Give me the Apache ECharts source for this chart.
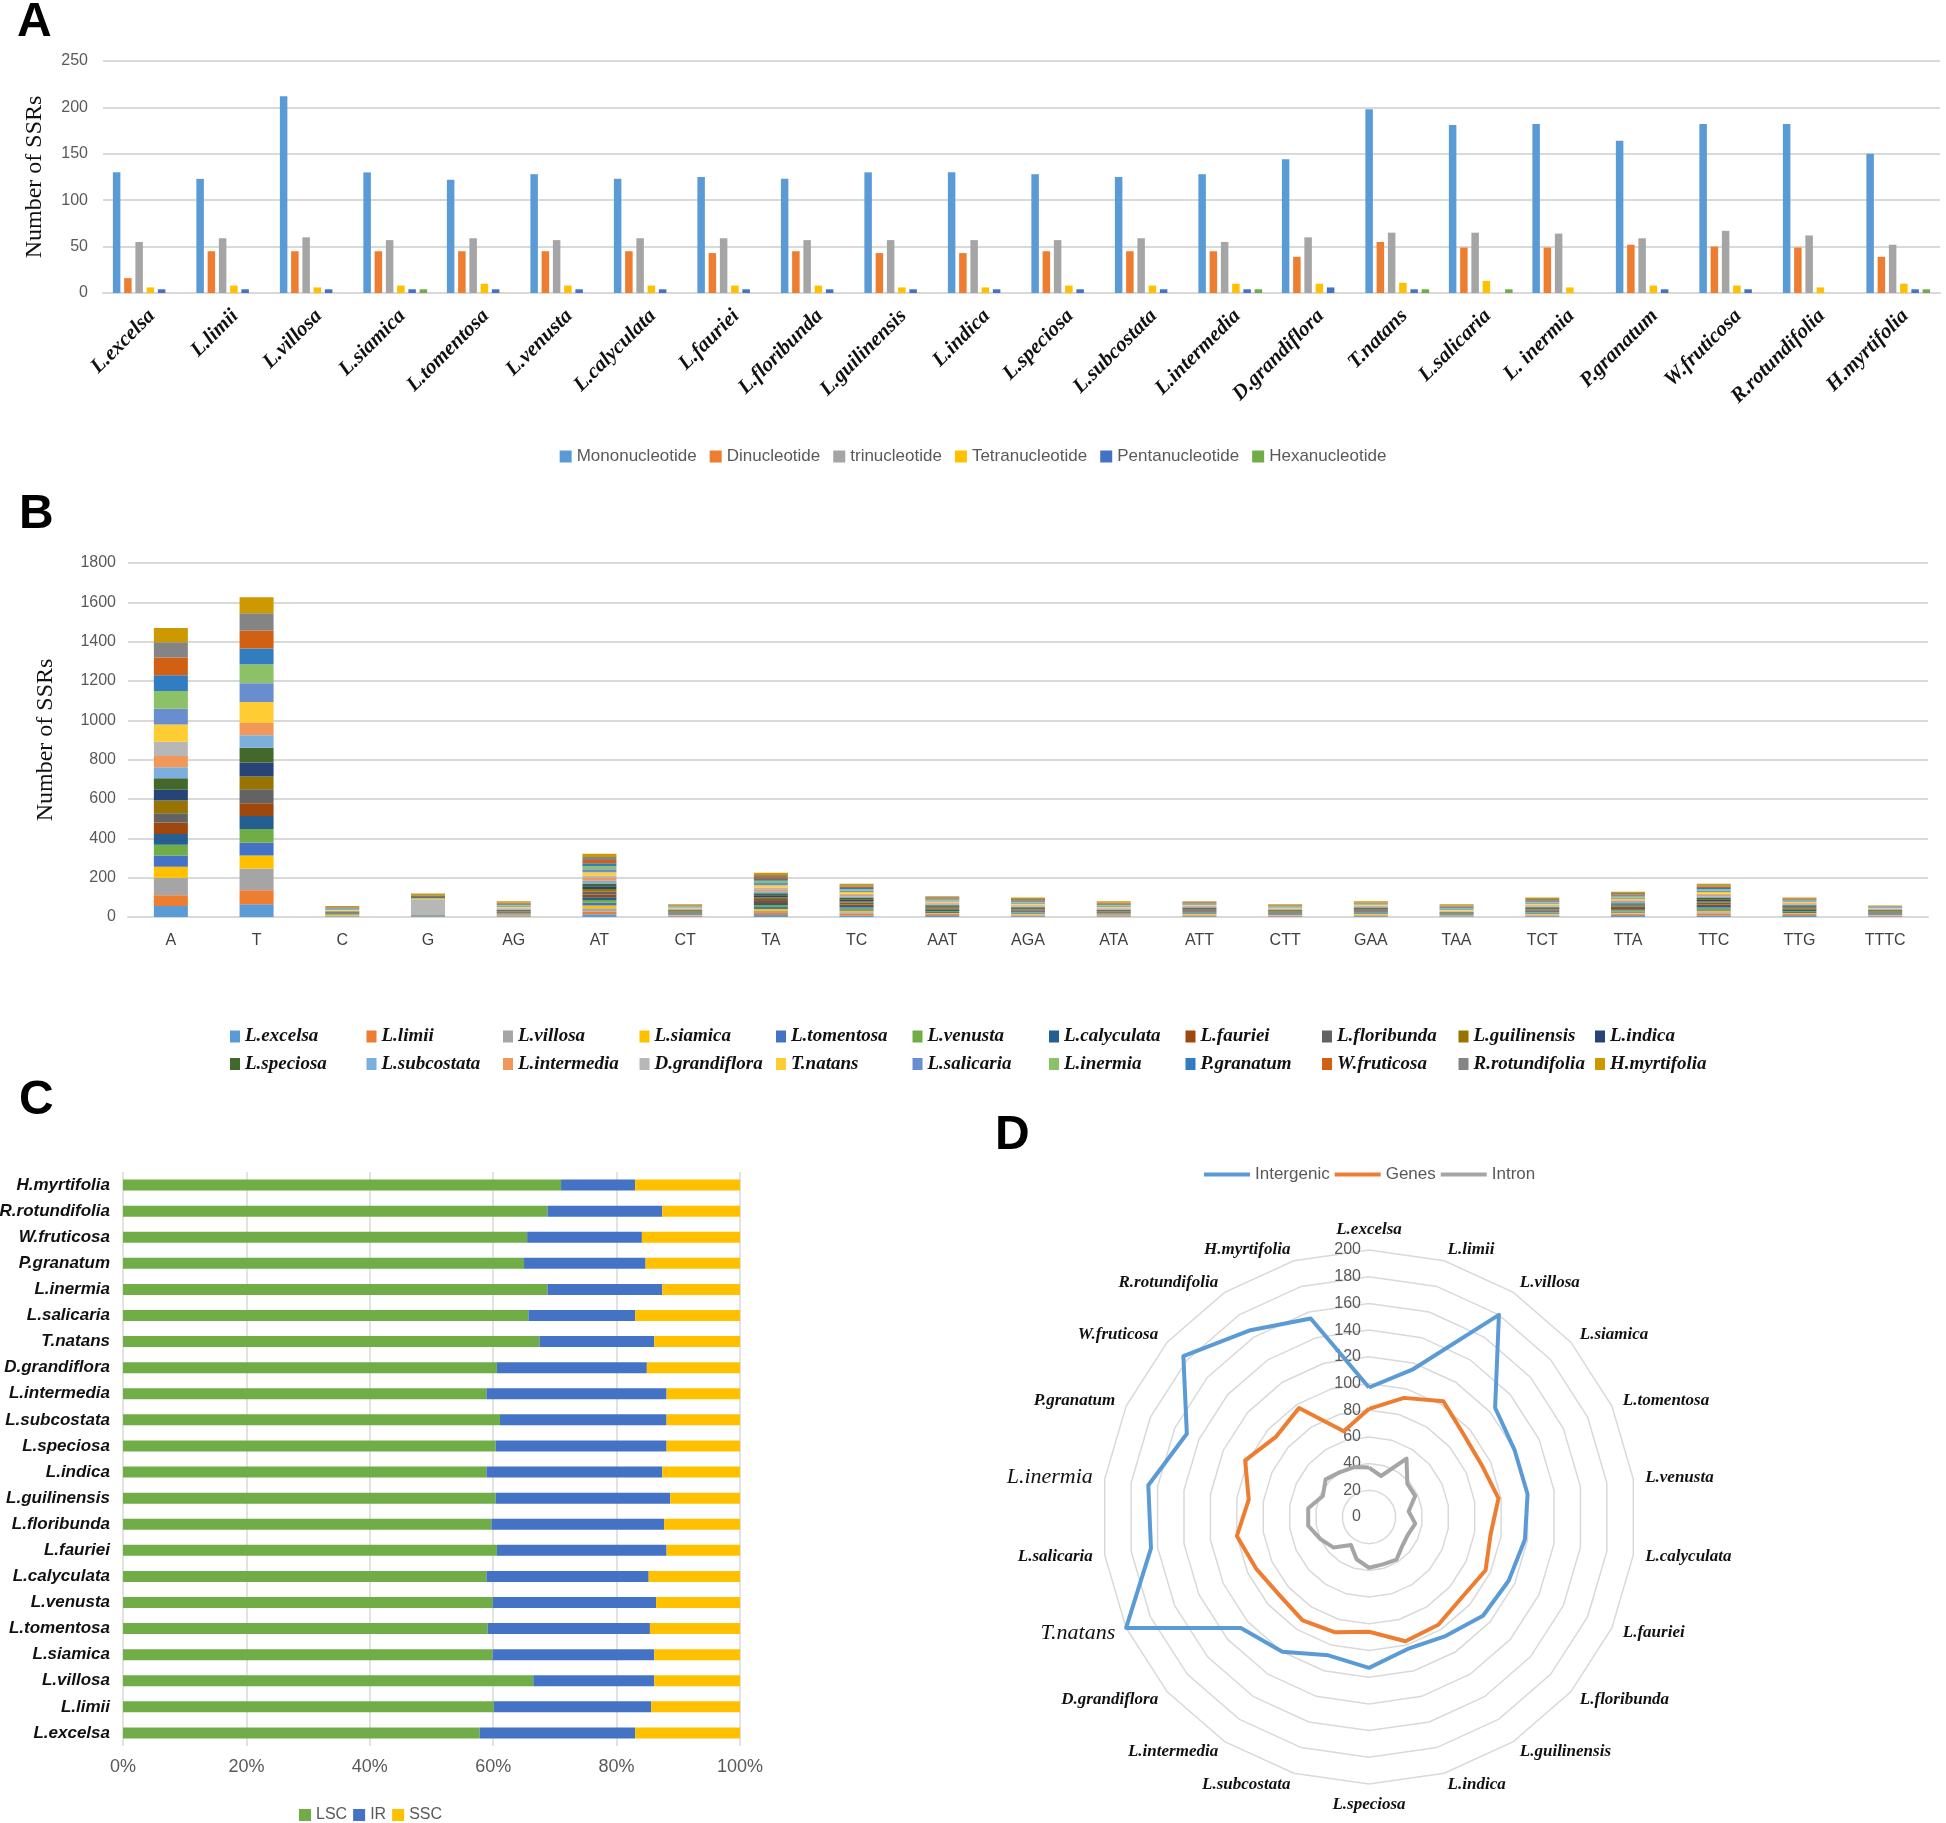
<!DOCTYPE html>
<html><head><meta charset="utf-8">
<script src="https://cdn.jsdelivr.net/npm/echarts@6/dist/echarts.min.js"></script>
<style>html,body{margin:0;padding:0;background:#fff}#c{width:1946px;height:1823px}</style>
</head><body><div id="c"></div>
<script>
// ---------- Panel A ----------
const speciesA = ['L.excelsa','L.limii','L.villosa','L.siamica','L.tomentosa','L.venusta','L.calyculata','L.fauriei','L.floribunda','L.guilinensis','L.indica','L.speciosa','L.subcostata','L.intermedia','D.grandiflora','T.natans','L.salicaria','L. inermia','P.granatum','W.fruticosa','R.rotundifolia','H.myrtifolia'];
const repeatTypes = ['Mononucleotide','Dinucleotide','trinucleotide','Tetranucleotide','Pentanucleotide','Hexanucleotide'];
const mono  = [130,123,212,130,122,128,123,125,123,130,130,128,125,128,144,198,181,182,164,182,182,150];
const di    = [16,45,45,45,45,45,45,43,45,43,43,45,45,45,39,55,49,49,52,50,49,39];
const tri   = [55,59,60,57,59,57,59,59,57,57,57,57,59,55,60,65,65,64,59,67,62,52];
const tetra = [6,8,6,8,10,8,8,8,8,6,6,8,8,10,10,11,13,6,8,8,6,10];
const penta = [4,4,4,4,4,4,4,4,4,4,4,4,4,4,6,4,0,0,4,4,0,4];
const hexa  = [0,0,0,4,0,0,0,0,0,0,0,0,0,4,0,4,4,0,0,0,0,4];
const aTicks = [0,50,100,150,200,250];

// ---------- Panel B ----------
const species = ['L.excelsa','L.limii','L.villosa','L.siamica','L.tomentosa','L.venusta','L.calyculata','L.fauriei','L.floribunda','L.guilinensis','L.indica','L.speciosa','L.subcostata','L.intermedia','D.grandiflora','T.natans','L.salicaria','L.inermia','P.granatum','W.fruticosa','R.rotundifolia','H.myrtifolia'];
const motifs = ['A','T','C','G','AG','AT','CT','TA','TC','AAT','AGA','ATA','ATT','CTT','GAA','TAA','TCT','TTA','TTC','TTG','TTTC'];
// values per motif, in species order
const mA    = [56,55,88,56,58,55,54,58,48,65,54,58,56,58,72,88,80,90,80,90,78,72];
const mT    = [65,71,111,66,65,70,66,65,71,65,71,75,63,63,0,106,95,97,80,90,89,82];
const mC    = [2,2,4,2,2,3,2,2,2,2,2,3,2,2,0,4,3,3,2,4,3,5];
const mG    = [1,1,1,0,1,1,0,1,1,1,1,0,1,0,76,4,3,4,5,5,4,8];
const mAG   = [3,3,4,3,3,3,3,3,3,3,3,3,3,3,4,5,5,4,4,5,4,6];
const mAT   = [14,14,16,14,14,14,14,14,14,14,14,14,14,14,12,17,16,16,14,17,15,17];
const mCT   = [3,3,3,3,3,3,3,3,3,3,3,3,3,3,2,3,3,3,2,3,3,4];
const mTA   = [10,10,11,10,10,10,10,10,10,10,10,10,10,10,9,12,11,11,9,11,10,11];
const mTC   = [8,8,8,8,8,8,8,8,8,8,8,8,8,8,6,9,7,7,6,7,7,8];
const mAAT  = [5,5,5,5,5,5,5,5,5,5,5,5,5,5,4,5,5,5,4,5,4,4];
const mAGA  = [4,4,5,4,4,4,4,4,4,4,4,4,4,4,5,5,5,5,5,5,5,7];
const mATA  = [3,3,4,3,3,3,3,3,3,3,3,3,3,3,4,5,5,4,4,5,4,6];
const mATT  = [4,4,4,4,4,4,4,4,4,4,4,4,4,4,2,4,4,3,3,4,2,2];
const mCTT  = [3,3,3,3,3,3,3,3,3,3,3,3,3,3,2,3,3,3,2,3,3,4];
const mGAA  = [4,4,4,4,4,4,4,4,4,4,4,4,4,4,2,3,3,3,2,3,3,5];
const mTAA  = [2,2,3,2,2,2,2,2,2,2,2,2,2,2,3,4,4,4,5,5,5,6];
const mTCT  = [4,4,5,4,4,4,4,4,4,4,4,4,4,4,5,5,5,5,5,5,5,7];
const mTTA  = [5,5,6,6,6,6,6,6,6,6,6,6,6,6,5,6,6,6,5,6,6,7];
const mTTC  = [8,8,8,8,8,8,8,8,8,8,8,8,8,8,6,9,7,7,6,7,7,8];
const mTTG  = [5,5,5,5,5,5,5,5,5,5,5,5,5,5,3,4,4,4,3,4,3,4];
const mTTTC = [3,3,3,3,3,3,3,3,3,3,3,3,3,3,2,2,2,2,2,2,2,2];
const motifValues = [mA,mT,mC,mG,mAG,mAT,mCT,mTA,mTC,mAAT,mAGA,mATA,mATT,mCTT,mGAA,mTAA,mTCT,mTTA,mTTC,mTTG,mTTTC];
const bTicks = [0,200,400,600,800,1000,1200,1400,1600,1800];

// ---------- Panel C (percent of genome, species order bottom->top) ----------
const regions = ['LSC','IR','SSC'];
const lscPct = [57.8,60.1,66.5,59.9,59.1,59.9,58.9,60.6,59.7,60.4,58.9,60.4,61.1,58.9,60.6,67.5,65.7,68.8,65.0,65.5,68.8,71.0];
const irPct  = [25.2,25.5,19.6,26.2,26.3,26.5,26.3,27.5,28.0,28.3,28.5,27.7,27.0,29.2,24.3,18.6,17.3,18.6,19.7,18.6,18.6,12.0];
const sscPct = [17.0,14.4,13.9,13.9,14.6,13.6,14.8,11.9,12.3,11.3,12.6,11.9,11.9,11.9,15.1,13.9,17.0,12.6,15.3,15.9,12.6,17.0];

// ---------- Panel D (radar) ----------
const locations = ['Intergenic','Genes','Intron'];
const intergenic = [97,115,180,125,120,120,118,115,113,106,103,113,108,120,127,200,165,167,150,184,166,155];
const genes      = [81,93,103,94,93,98,92,96,92,96,97,86,90,92,89,93,100,91,102,92,97,67];
const intron     = [37,32,52,38,38,30,35,32,33,38,37,38,33,25,35,40,46,46,38,43,40,39];

// ---------- styles ----------
const aColors = ['#5B9BD5','#ED7D31','#A5A5A5','#FFC000','#4472C4','#70AD47'];
const spColors = ['#5B9BD5','#ED7D31','#A5A5A5','#FFC000','#4472C4','#70AD47','#255E91','#9E480E','#636363','#997300','#264478','#43682B','#7CAFDD','#F1975A','#B7B7B7','#FFCD33','#698ED0','#8CC168','#327DC2','#D26012','#848484','#CC9A00'];
const cColors = ['#70AD47','#4472C4','#FFC000'];
const dColors = ['#5B9BD5','#ED7D31','#A5A5A5'];
const GRID = '#D9D9D9';
const SANS = 'Liberation Sans';
const SERIF = 'Liberation Serif';

const aSeriesData = [mono,di,tri,tetra,penta,hexa];
const cSeriesData = [lscPct,irPct,sscPct];
const dSeriesData = [intergenic,genes,intron];

// radar: first axis on top, then clockwise
const order = [0]; for (let i = species.length - 1; i >= 1; i--) order.push(i);
const bigNames = ['L.inermia','T.natans'];

const series = [];
repeatTypes.forEach((n,i)=>series.push({
  type:'bar', name:n, xAxisIndex:0, yAxisIndex:0, data:aSeriesData[i],
  barWidth:7.5, barGap:'50%', itemStyle:{color:aColors[i]}
}));
species.forEach((n,i)=>series.push({
  type:'bar', name:n, xAxisIndex:1, yAxisIndex:1, stack:'b', barWidth:34,
  data: motifValues.map(m=>m[i]), itemStyle:{color:spColors[i]}
}));
regions.forEach((n,i)=>series.push({
  type:'bar', name:n, xAxisIndex:2, yAxisIndex:2, stack:'c', barWidth:11,
  data: cSeriesData[i], itemStyle:{color:cColors[i]}
}));
series.push({
  type:'radar', radarIndex:0, symbol:'none',
  data: locations.map((n,i)=>({
    name:n, value: order.map(k=>dSeriesData[i][k]),
    lineStyle:{color:dColors[i], width:4}, itemStyle:{color:dColors[i]}
  }))
});

const letter = (t,l,tp)=>({text:t,left:l,top:tp,textStyle:{fontSize:48,fontWeight:'bold',fontFamily:SANS,color:'#000'}});
const plain = v => String(v);

const option = {
  animation:false,
  backgroundColor:'#fff',
  title:[letter('A',12,-6),letter('B',14,486),letter('C',14,1072),letter('D',990,1107)],
  grid:[
    {left:103, top:61, width:1837, height:232, outerBoundsMode:'none'},
    {left:128, top:563, width:1800, height:354, outerBoundsMode:'none'},
    {left:123, top:1172, width:617, height:574, outerBoundsMode:'none'}
  ],
  xAxis:[
    {gridIndex:0, type:'category', data:speciesA,
     axisLine:{lineStyle:{color:GRID,width:2}}, axisTick:{show:false},
     axisLabel:{interval:0, rotate:45, margin:27, padding:[0,-10,0,0], fontFamily:SERIF, fontStyle:'italic', fontWeight:'bold', fontSize:21, color:'#111'}},
    {gridIndex:1, type:'category', data:motifs,
     axisLine:{lineStyle:{color:GRID,width:2}}, axisTick:{show:false},
     axisLabel:{interval:0, margin:16, fontFamily:SANS, fontSize:16, color:'#404040'}},
    {gridIndex:2, type:'value', min:0, max:100, interval:20,
     axisLine:{show:false}, axisTick:{show:false},
     splitLine:{lineStyle:{color:GRID,width:1.5}},
     axisLabel:{formatter:'{value}%', margin:12, fontFamily:SANS, fontSize:18, color:'#595959'}}
  ],
  yAxis:[
    {gridIndex:0, type:'value', min:aTicks[0], max:aTicks[aTicks.length-1], interval:50,
     axisLine:{show:false}, axisTick:{show:false},
     splitLine:{lineStyle:{color:GRID,width:2}},
     axisLabel:{margin:15, formatter:plain, fontFamily:SANS, fontSize:16, color:'#595959'},
     name:'Number of SSRs', nameLocation:'middle', nameGap:56,
     nameTextStyle:{fontFamily:SERIF, fontSize:24, color:'#111'}},
    {gridIndex:1, type:'value', min:bTicks[0], max:bTicks[bTicks.length-1], interval:200,
     axisLine:{show:false}, axisTick:{show:false},
     splitLine:{lineStyle:{color:GRID,width:2}},
     axisLabel:{margin:12, formatter:plain, fontFamily:SANS, fontSize:16, color:'#595959'},
     name:'Number of SSRs', nameLocation:'middle', nameGap:70,
     nameTextStyle:{fontFamily:SERIF, fontSize:24, color:'#111'}},
    {gridIndex:2, type:'category', data:species,
     axisLine:{show:false}, axisTick:{show:false},
     axisLabel:{interval:0, margin:13, fontFamily:SANS, fontStyle:'italic', fontWeight:'bold', fontSize:17, color:'#111'}}
  ],
  legend:[
    {data:repeatTypes, left:'center', top:443, icon:'rect', itemWidth:12, itemHeight:12, itemGap:13,
     textStyle:{fontFamily:SANS, fontSize:17, color:'#595959'}},
    {data:species, left:225, top:1022, width:1500, icon:'rect', itemWidth:10, itemHeight:12, itemGap:8.5,
     formatter:n=>'{a|'+n+'}',
     textStyle:{rich:{a:{width:113, lineHeight:22, fontFamily:SERIF, fontStyle:'italic', fontWeight:'bold', fontSize:19, color:'#111'}}}},
    {data:regions, left:294, top:1802, icon:'rect', itemWidth:12, itemHeight:12, itemGap:6,
     textStyle:{fontFamily:SANS, fontSize:16, color:'#595959'}},
    {data:locations, left:1199, top:1161, icon:'rect', itemWidth:46, itemHeight:4, itemGap:5,
     textStyle:{fontFamily:SANS, fontSize:17, color:'#595959'}}
  ],
  radar:{
    center:[1369,1517], radius:267, startAngle:90, shape:'polygon', splitNumber:10,
    indicator: order.map((k,j)=> j===0 ? {name:species[k], min:0, max:200, axisLabel:{show:true}} : {name:species[k], min:0, max:200}),
    nameGap:12,
    axisName:{
      formatter:(n)=> bigNames.includes(n) ? '{b|'+n+'}' : '{s|'+n+'}',
      rich:{
        b:{fontFamily:SERIF, fontStyle:'italic', fontSize:22, color:'#111'},
        s:{fontFamily:SERIF, fontStyle:'italic', fontWeight:'bold', fontSize:17, color:'#111'}
      }
    },
    axisLine:{show:false}, axisTick:{show:false},
    axisLabel:{show:false, margin:8, fontFamily:SANS, fontSize:16, color:'#595959'},
    splitLine:{lineStyle:{color:GRID, width:1.5}},
    splitArea:{show:false}
  },
  series
};
const chart = echarts.init(document.getElementById('c'), null, {renderer:'canvas'});
chart.setOption(option);
</script></body></html>
